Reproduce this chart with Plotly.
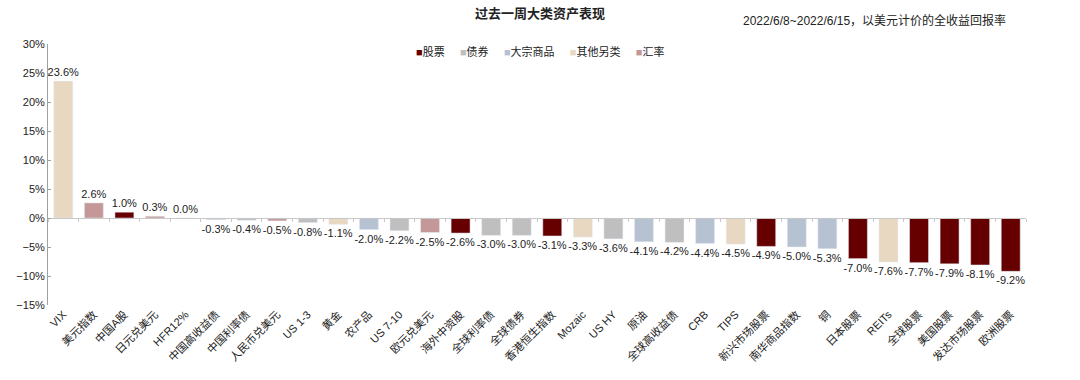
import plotly.graph_objects as go

categories = ["VIX", "美元指数", "中国A股", "日元兑美元", "HFR12%", "中国高收益债", "中国利率债",
              "人民币兑美元", "US 1-3", "黄金", "农产品", "US 7-10", "欧元兑美元", "海外中资股",
              "全球利率债", "全球债券", "香港恒生指数", "Mozaic", "US HY", "原油", "全球高收益债",
              "CRB", "TIPS", "新兴市场股票", "南华商品指数", "铜", "日本股票", "REITs", "全球股票",
              "美国股票", "发达市场股票", "欧洲股票"]
values = [23.6, 2.6, 1.0, 0.3, 0.0, -0.3, -0.4, -0.5, -0.8, -1.1, -2.0, -2.2, -2.5, -2.6,
          -3.0, -3.0, -3.1, -3.3, -3.6, -4.1, -4.2, -4.4, -4.5, -4.9, -5.0, -5.3, -7.0, -7.6,
          -7.7, -7.9, -8.1, -9.2]
groups = ["其他另类", "汇率", "股票", "汇率", "其他另类", "债券", "债券", "汇率", "债券", "其他另类",
          "大宗商品", "债券", "汇率", "股票", "债券", "债券", "股票", "其他另类", "债券", "大宗商品",
          "债券", "大宗商品", "其他另类", "股票", "大宗商品", "大宗商品", "股票", "其他另类", "股票",
          "股票", "股票", "股票"]
legend_order = ["股票", "债券", "大宗商品", "其他另类", "汇率"]
colors = {"股票": "#660000", "债券": "#bfbfbf", "大宗商品": "#b6c2d2",
          "其他另类": "#e8d7c1", "汇率": "#c49898"}

FONT = "Liberation Sans, Arial, Noto Sans CJK SC, sans-serif"

fig = go.Figure()
for g in legend_order:
    xs = [c for c, gg in zip(categories, groups) if gg == g]
    ys = [v for v, gg in zip(values, groups) if gg == g]
    fig.add_trace(go.Bar(
        x=xs, y=ys, name=g, marker_color=colors[g], width=0.62,
        text=[f"{v:.1f}%" for v in ys], textposition="outside",
        textfont=dict(size=11, color="#222"), constraintext="none", cliponaxis=False,
        showlegend=False,
    ))

legend_text = "&nbsp;&nbsp;&nbsp;&nbsp;&nbsp;".join(
    f"<span style='color:{colors[g]}'>■</span>{g}" for g in legend_order)

fig.update_layout(
    width=1080, height=380, barmode="relative",
    margin=dict(l=48, r=54, t=44, b=75),
    paper_bgcolor="white", plot_bgcolor="white",
    font=dict(family=FONT, size=11, color="#333"),
    title=dict(text="<b>过去一周大类资产表现</b>", x=0.5, xanchor="center", y=0.965, yanchor="middle",
               font=dict(size=13, color="#222")),
    annotations=[
        dict(text="2022/6/8~2022/6/15，以美元计价的全收益回报率", xref="paper", yref="paper",
             x=1.0, y=1.0, xanchor="right", yanchor="bottom", yshift=14, xshift=-18,
             showarrow=False, font=dict(size=12, color="#222")),
        dict(text=legend_text, xref="paper", yref="paper", x=0.374, y=0.97,
             xanchor="left", yanchor="middle", showarrow=False,
             font=dict(size=11, color="#222")),
    ],
    xaxis=dict(type="category", categoryorder="array", categoryarray=categories,
               tickangle=-45, tickfont=dict(size=11, color="#222"), showline=False,
               ticks="", showgrid=False, range=[-0.5, len(categories) - 0.5]),
    xaxis2=dict(type="category", categoryorder="array", categoryarray=categories,
                overlaying="x", matches="x", anchor="free", position=(0 - (-15)) / 45,
                showline=True, linecolor="#c8c8c8", linewidth=1, ticks="outside",
                tickson="boundaries", ticklen=3, tickcolor="#c8c8c8", showticklabels=False,
                showgrid=False),
    yaxis=dict(range=[-15, 30], dtick=5, ticksuffix="%", showgrid=False, zeroline=False,
               showline=True, linecolor="#a0a0a0", linewidth=1, ticks="inside", ticklen=3,
               tickcolor="#a0a0a0", tickfont=dict(size=11, color="#222")),
)
# invisible trace to activate xaxis2
fig.add_trace(go.Scatter(x=categories, y=[0] * len(categories), xaxis="x2", mode="lines",
                         line=dict(width=0), hoverinfo="skip", showlegend=False))

fig.write_html("out.html", config={"displayModeBar": False},
               post_script="document.body.style.margin='0';document.body.style.overflow='hidden';")
